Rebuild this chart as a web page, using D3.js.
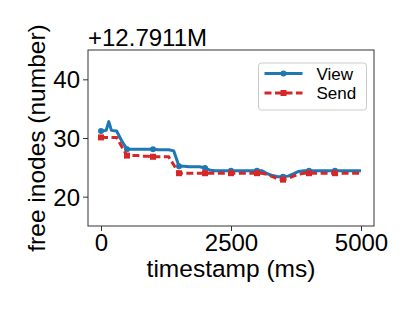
<!DOCTYPE html>
<html>
<head>
<meta charset="utf-8">
<script src="https://cdn.jsdelivr.net/npm/d3@7"></script>
<style>
  body { margin: 0; background: #fff; }
  svg text { font-family: "Liberation Sans", Arial, sans-serif; fill: #000; }
</style>
</head>
<body>
<div class="chart"></div>
<script>
// timestamps (ms) and free inode counts, offset by +12.7911M
var timestamps = [0, 100, 150, 200, 300, 400, 500, 600, 700, 800, 900, 1000,
  1100, 1200, 1300, 1400, 1500, 1600, 1700, 1800, 1900, 2000, 2100, 2200,
  2300, 2400, 2500, 2600, 2700, 2800, 2900, 3000, 3100,
  3200, 3300, 3400, 3500, 3600, 3700, 3800,
  3900, 4000, 4100, 4200, 4300, 4400, 4500, 4600, 4700, 4800, 4900, 5000];

var viewValues = [31.2, 31.3, 32.8, 31.3, 31.2, 29.5, 28.1, 28.1, 28.1, 28.1, 28.1, 28.1,
  28.0, 28.0, 28.0, 27.8, 25.2, 25.2, 25.1, 25.1, 25.1, 24.9, 24.5, 24.4,
  24.4, 24.4, 24.4, 24.4, 24.4, 24.4, 24.4, 24.4, 24.4,
  23.9, 23.6, 23.4, 23.4, 23.5, 23.9, 24.3,
  24.4, 24.4, 24.4, 24.4, 24.4, 24.4, 24.4, 24.4, 24.4, 24.4, 24.4, 24.4];

var sendValues = [30.1, 30.1, 30.1, 30.1, 30.1, 28.5, 27.0, 27.0, 27.0, 26.9, 26.9, 26.8,
  26.8, 26.8, 26.8, 25.4, 24.0, 24.0, 24.0, 24.0, 24.0, 24.0, 24.0, 24.0,
  24.0, 24.0, 24.0, 24.0, 24.0, 24.0, 24.0, 24.0, 24.0,
  23.8, 23.4, 23.0, 22.9, 23.1, 23.5, 23.8,
  24.0, 24.0, 24.0, 24.0, 24.0, 24.0, 24.0, 24.0, 24.0, 24.0, 24.0, 24.0];

var markerTimes = [0, 500, 1000, 1500, 2000, 2500, 3000, 3500, 4000, 4500];
var xTicks = [0, 2500, 5000];
var yTicks = [20, 30, 40];
var seriesNames = ["View", "Send"];
var offsetLabel = "+12.7911M";

var svgWidth = 415;
var svgHeight = 311;
var margin = { top: 50, right: 41, bottom: 85, left: 88 };
var width = svgWidth - margin.left - margin.right;
var height = svgHeight - margin.top - margin.bottom;

var blue = "#1f77b4";
var red = "#d62728";

var svg = d3.select(".chart")
  .append("svg")
  .attr("width", svgWidth)
  .attr("height", svgHeight);

var chart = svg.append("g")
  .attr("transform", "translate(" + margin.left + "," + margin.top + ")");

var xScale = d3.scaleLinear().domain([-250, 5250]).range([0, width]);
var yScale = d3.scaleLinear().domain([15, 45]).range([height, 0]);

var viewData = timestamps.map(function(t, i) { return { t: t, v: viewValues[i] }; });
var sendData = timestamps.map(function(t, i) { return { t: t, v: sendValues[i] }; });

function isMarked(d) { return markerTimes.indexOf(d.t) >= 0; }

var line = d3.line()
  .x(function(d) { return xScale(d.t); })
  .y(function(d) { return yScale(d.v); });

// View series
chart.append("path")
  .datum(viewData)
  .attr("d", line)
  .attr("fill", "none")
  .attr("stroke", blue)
  .attr("stroke-width", 3)
  .attr("stroke-linejoin", "round");

chart.selectAll(".view-dot")
  .data(viewData.filter(isMarked))
  .enter().append("circle")
  .attr("class", "view-dot")
  .attr("cx", function(d) { return xScale(d.t); })
  .attr("cy", function(d) { return yScale(d.v); })
  .attr("r", 3)
  .attr("fill", blue);

// Send series
chart.append("path")
  .datum(sendData)
  .attr("d", line)
  .attr("fill", "none")
  .attr("stroke", red)
  .attr("stroke-width", 3)
  .attr("stroke-dasharray", "7,3.5");

chart.selectAll(".send-sq")
  .data(sendData.filter(isMarked))
  .enter().append("rect")
  .attr("class", "send-sq")
  .attr("x", function(d) { return xScale(d.t) - 3; })
  .attr("y", function(d) { return yScale(d.v) - 3; })
  .attr("width", 6)
  .attr("height", 6)
  .attr("fill", red);

// Axes
var bottomAxis = d3.axisBottom(xScale).tickValues(xTicks).tickFormat(d3.format("d"))
  .tickSize(5).tickPadding(3);
var leftAxis = d3.axisLeft(yScale).tickValues(yTicks).tickSize(5).tickPadding(3);

var gx = chart.append("g")
  .attr("transform", "translate(0," + height + ")")
  .call(bottomAxis);
var gy = chart.append("g").call(leftAxis);

[gx, gy].forEach(function(g) {
  g.select(".domain").remove();
  g.selectAll("line").attr("stroke", "#333");
  g.selectAll("text").style("font-size", "24px").attr("fill", "#000");
});
gy.selectAll("text").attr("dy", "0.36em");

// frame
chart.append("rect")
  .attr("width", width)
  .attr("height", height)
  .attr("fill", "none")
  .attr("stroke", "#333")
  .attr("stroke-width", 1);

// Axis labels
chart.append("text")
  .attr("x", width / 2)
  .attr("y", height + 51)
  .attr("text-anchor", "middle")
  .style("font-size", "24.5px")
  .text("timestamp (ms)");

chart.append("text")
  .attr("transform", "translate(" + (-43) + "," + (height / 2) + ") rotate(-90)")
  .attr("text-anchor", "middle")
  .style("font-size", "24.5px")
  .text("free inodes (number)");

chart.append("text")
  .attr("x", 0)
  .attr("y", -4)
  .style("font-size", "24px")
  .text(offsetLabel);

// Legend
var legend = chart.append("g")
  .attr("transform", "translate(" + (258.5 - margin.left) + "," + (63 - margin.top) + ")");

legend.append("rect")
  .attr("width", 108)
  .attr("height", 47)
  .attr("rx", 3)
  .attr("fill", "#fff")
  .attr("fill-opacity", 0.8)
  .attr("stroke", "#ccc");

var colors = [blue, red];
seriesNames.forEach(function(name, i) {
  var ly = 10.5 + i * 19.5;
  legend.append("line")
    .attr("x1", 6).attr("x2", 44)
    .attr("y1", ly).attr("y2", ly)
    .attr("stroke", colors[i])
    .attr("stroke-width", 3)
    .attr("stroke-dasharray", i === 1 ? "7,3.5" : null);
  if (i === 0) {
    legend.append("circle").attr("cx", 25).attr("cy", ly).attr("r", 3).attr("fill", blue);
  } else {
    legend.append("rect").attr("x", 22).attr("y", ly - 3).attr("width", 6).attr("height", 6).attr("fill", red);
  }
  legend.append("text")
    .attr("x", 58)
    .attr("y", ly + 6)
    .style("font-size", "17px")
    .text(name);
});
</script>
</body>
</html>
